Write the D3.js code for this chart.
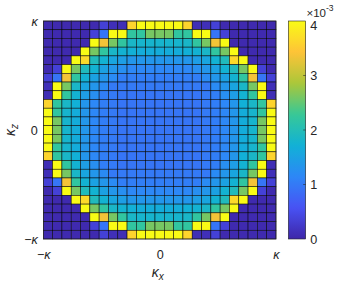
<!DOCTYPE html>
<html><head><meta charset="utf-8">
<script src="https://cdn.jsdelivr.net/npm/d3@7"></script>
<style>
body{margin:0;background:#fff}
svg{display:block;font-family:"Liberation Sans",Arial,Helvetica,sans-serif}
</style>
</head><body><svg id="c" width="357" height="282"></svg>
<script>
// ---- data ----
const xTickValues = [-1, 0, 1];
const xTickLabels = ["−κ", "0", "κ"];
const yTickValues = [-1, 0, 1];
const yTickLabels = ["−κ", "0", "κ"];
const cbTickValues = [0, 1, 2, 3, 4];
const cbExponent = "-3";
const xLabel = "κ", xLabelSub = "x";
const yLabel = "κ", yLabelSub = "z";
const parula = ["#3e26a8", "#4852f4", "#2d87f7", "#11b1d6", "#37c897", "#abc739", "#fec338", "#f9fb15"];

// cell values (x 1e-3), rows top (κz = +κ) to bottom, columns left (κx = -κ) to right
const row00 = [0.05,0.05,0.05,0.05,0.05,0.05,0.35,0.12,0.1,3.6,4,4,4,4,4,3.6,0.1,0.12,0.35,0.05,0.05,0.05,0.05,0.05,0.05];
const row01 = [0.05,0.05,0.05,0.05,0.05,0.35,0.95,4,4,2.2,2.2,2.6,2.6,2.6,2.2,2.2,4,4,0.95,0.35,0.05,0.05,0.05,0.05,0.05];
const row02 = [0.05,0.05,0.05,0.05,0.05,4,3.35,2.6,2.2,1.85,1.8,1.8,1.8,1.8,1.8,1.85,2.2,2.6,3.35,4,0.05,0.05,0.05,0.05,0.05];
const row03 = [0.05,0.05,0.05,0.05,4,2.6,2.2,1.85,1.75,1.7,1.65,1.65,1.65,1.65,1.65,1.7,1.75,1.85,2.2,2.6,4,0.05,0.05,0.05,0.05];
const row04 = [0.05,0.05,0.05,4,3.65,1.95,1.75,1.55,1.45,1.35,1.35,1.35,1.35,1.35,1.35,1.35,1.45,1.55,1.75,1.95,3.65,4,0.05,0.05,0.05];
const row05 = [0.05,0.35,4,2.6,1.95,1.75,1.5,1.35,1.25,1.15,1.15,1.15,1.15,1.15,1.15,1.15,1.25,1.35,1.5,1.75,1.95,2.6,4,0.35,0.05];
const row06 = [0.35,0.95,3.35,2.2,1.75,1.5,1.35,1.2,1.05,1.05,1.05,1.05,1.05,1.05,1.05,1.05,1.05,1.2,1.35,1.5,1.75,2.2,3.35,0.95,0.35];
const row07 = [0.12,4,2.6,1.85,1.55,1.35,1.2,1.0,1.0,1.0,1.0,1.0,1.0,1.0,1.0,1.0,1.0,1.0,1.2,1.35,1.55,1.85,2.6,4,0.12];
const row08 = [0.1,4,2.2,1.75,1.45,1.25,1.05,1.0,0.95,0.95,0.95,0.95,0.95,0.95,0.95,0.95,0.95,1.0,1.05,1.25,1.45,1.75,2.2,4,0.1];
const row09 = [3.6,2.2,1.85,1.7,1.35,1.15,1.05,1.0,0.95,0.95,0.95,0.95,0.95,0.95,0.95,0.95,0.95,1.0,1.05,1.15,1.35,1.7,1.85,2.2,3.6];
const row10 = [4,2.2,1.8,1.65,1.35,1.15,1.05,1.0,0.95,0.95,0.95,0.95,0.95,0.95,0.95,0.95,0.95,1.0,1.05,1.15,1.35,1.65,1.8,2.2,4];
const row11 = [4,2.6,1.8,1.65,1.35,1.15,1.05,1.0,0.95,0.95,0.95,0.95,0.95,0.95,0.95,0.95,0.95,1.0,1.05,1.15,1.35,1.65,1.8,2.6,4];
const row12 = [4,2.6,1.8,1.65,1.35,1.15,1.05,1.0,0.95,0.95,0.95,0.95,0.95,0.95,0.95,0.95,0.95,1.0,1.05,1.15,1.35,1.65,1.8,2.6,4];
const row13 = [4,2.6,1.8,1.65,1.35,1.15,1.05,1.0,0.95,0.95,0.95,0.95,0.95,0.95,0.95,0.95,0.95,1.0,1.05,1.15,1.35,1.65,1.8,2.6,4];
const row14 = [4,2.2,1.8,1.65,1.35,1.15,1.05,1.0,0.95,0.95,0.95,0.95,0.95,0.95,0.95,0.95,0.95,1.0,1.05,1.15,1.35,1.65,1.8,2.2,4];
const row15 = [3.6,2.2,1.85,1.7,1.35,1.15,1.05,1.0,0.95,0.95,0.95,0.95,0.95,0.95,0.95,0.95,0.95,1.0,1.05,1.15,1.35,1.7,1.85,2.2,3.6];
const row16 = [0.1,4,2.2,1.75,1.45,1.25,1.05,1.0,0.95,0.95,0.95,0.95,0.95,0.95,0.95,0.95,0.95,1.0,1.05,1.25,1.45,1.75,2.2,4,0.1];
const row17 = [0.12,4,2.6,1.85,1.55,1.35,1.2,1.0,1.0,1.0,1.0,1.0,1.0,1.0,1.0,1.0,1.0,1.0,1.2,1.35,1.55,1.85,2.6,4,0.12];
const row18 = [0.35,0.95,3.35,2.2,1.75,1.5,1.35,1.2,1.05,1.05,1.05,1.05,1.05,1.05,1.05,1.05,1.05,1.2,1.35,1.5,1.75,2.2,3.35,0.95,0.35];
const row19 = [0.05,0.35,4,2.6,1.95,1.75,1.5,1.35,1.25,1.15,1.15,1.15,1.15,1.15,1.15,1.15,1.25,1.35,1.5,1.75,1.95,2.6,4,0.35,0.05];
const row20 = [0.05,0.05,0.05,4,3.65,1.95,1.75,1.55,1.45,1.35,1.35,1.35,1.35,1.35,1.35,1.35,1.45,1.55,1.75,1.95,3.65,4,0.05,0.05,0.05];
const row21 = [0.05,0.05,0.05,0.05,4,2.6,2.2,1.85,1.75,1.7,1.65,1.65,1.65,1.65,1.65,1.7,1.75,1.85,2.2,2.6,4,0.05,0.05,0.05,0.05];
const row22 = [0.05,0.05,0.05,0.05,0.05,4,3.35,2.6,2.2,1.85,1.8,1.8,1.8,1.8,1.8,1.85,2.2,2.6,3.35,4,0.05,0.05,0.05,0.05,0.05];
const row23 = [0.05,0.05,0.05,0.05,0.05,0.35,0.95,4,4,2.2,2.2,2.6,2.6,2.6,2.2,2.2,4,4,0.95,0.35,0.05,0.05,0.05,0.05,0.05];
const row24 = [0.05,0.05,0.05,0.05,0.05,0.05,0.35,0.12,0.1,3.6,4,4,4,4,4,3.6,0.1,0.12,0.35,0.05,0.05,0.05,0.05,0.05,0.05];
const values = [row00,row01,row02,row03,row04,row05,row06,row07,row08,row09,row10,row11,row12,
                row13,row14,row15,row16,row17,row18,row19,row20,row21,row22,row23,row24];

// ---- drawing ----
const svg = d3.select("#c");
const P = {x0: 43.3, x1: 276, y0: 21, y1: 239};
const CB = {x0: 288.3, x1: 305.7};
const tickFont = 12.6, labelFont = 14;
const ink = "#262626";

const nR = values.length, nC = values[0].length;
const xb = d3.scaleBand().domain(d3.range(nC)).range([P.x0, P.x1]);
const yb = d3.scaleBand().domain(d3.range(nR)).range([P.y0, P.y1]);
const xl = d3.scaleLinear().domain([-1, 1]).range([P.x0, P.x1]);
const yl = d3.scaleLinear().domain([-1, 1]).range([P.y1, P.y0]);
const cmax = d3.max(cbTickValues);
const color = d3.scaleLinear()
  .domain(parula.map((_, i) => i * cmax / (parula.length - 1)))
  .range(parula).interpolate(d3.interpolateRgb).clamp(true);

const cells = [];
values.forEach((row, r) => row.forEach((v, c) => cells.push({r, c, v})));

svg.append("g").selectAll("rect").data(cells).join("rect")
  .attr("x", d => xb(d.c)).attr("y", d => yb(d.r))
  .attr("width", xb.bandwidth()).attr("height", yb.bandwidth())
  .attr("fill", d => color(d.v))
  .attr("stroke", "#000").attr("stroke-opacity", 0.85).attr("stroke-width", 0.6);

svg.append("rect").attr("x", P.x0).attr("y", P.y0)
  .attr("width", P.x1 - P.x0).attr("height", P.y1 - P.y0)
  .attr("fill", "none").attr("stroke", ink).attr("stroke-width", 0.6);

// split a label so that the Greek letter is set in italics, the rest upright
function greekLabel(sel, label) {
  sel.text(null);
  for (const ch of label) {
    sel.append("tspan").attr("font-style", ch === "κ" ? "italic" : "normal").text(ch);
  }
}

// axes
const xAxis = svg.append("g").attr("transform", `translate(0,${P.y1})`)
  .call(d3.axisBottom(xl).tickValues(xTickValues).tickSize(0).tickPadding(10.8));
const yAxis = svg.append("g").attr("transform", `translate(${P.x0},0)`)
  .call(d3.axisLeft(yl).tickValues(yTickValues).tickSize(0).tickPadding(5.5));
[xAxis, yAxis].forEach((g, k) => {
  g.select(".domain").remove();
  const labs = k === 0 ? xTickLabels : yTickLabels;
  g.selectAll("text").attr("font-size", tickFont).attr("fill", ink)
    .attr("font-family", "Liberation Sans, Arial, sans-serif")
    .each(function(d, i) { greekLabel(d3.select(this), labs[i]); });
});

// axis labels
const xt = svg.append("text").attr("x", (P.x0 + P.x1) / 2 - 2).attr("y", 276.5)
  .attr("text-anchor", "middle").attr("font-size", labelFont).attr("fill", ink);
xt.append("tspan").attr("font-style", "italic").text(xLabel);
xt.append("tspan").attr("font-size", labelFont * 0.72).attr("font-style", "italic").attr("dy", 3).text(xLabelSub);

const yt = svg.append("text").attr("transform", `translate(15,${(P.y0 + P.y1) / 2}) rotate(-90)`)
  .attr("text-anchor", "middle").attr("font-size", labelFont).attr("fill", ink);
yt.append("tspan").attr("font-style", "italic").text(yLabel);
yt.append("tspan").attr("font-size", labelFont * 0.72).attr("font-style", "italic").attr("dy", 3).text(yLabelSub);

// colorbar
const cbScale = d3.scaleLinear().domain([0, cmax]).range([P.y1, P.y0]);
const grad = svg.append("defs").append("linearGradient").attr("id", "cbg")
  .attr("x1", 0).attr("y1", 1).attr("x2", 0).attr("y2", 0);
d3.range(0, 1.0001, 0.02).forEach(t => {
  grad.append("stop").attr("offset", t).attr("stop-color", color(t * cmax));
});
svg.append("rect").attr("x", CB.x0).attr("y", P.y0)
  .attr("width", CB.x1 - CB.x0).attr("height", P.y1 - P.y0)
  .attr("fill", "url(#cbg)").attr("stroke", ink).attr("stroke-width", 0.6);
const cbAxis = svg.append("g").attr("transform", `translate(${CB.x1},0)`)
  .call(d3.axisRight(cbScale).tickValues(cbTickValues).tickSize(0).tickPadding(4.5).tickFormat(d3.format("d")));
cbAxis.select(".domain").remove();
cbAxis.selectAll("text").attr("font-size", tickFont).attr("fill", ink)
  .attr("font-family", "Liberation Sans, Arial, sans-serif")
  .attr("dy", d => d === cmax ? "0.75em" : "0.32em")
  .attr("y", d => d === cmax ? -1 : 0);
svg.append("g").selectAll("line").data(cbTickValues.slice(1, -1)).join("line")
  .attr("x1", CB.x1 - 2.5).attr("x2", CB.x1)
  .attr("y1", d => cbScale(d)).attr("y2", d => cbScale(d))
  .attr("stroke", ink).attr("stroke-width", 0.6);

const ex = svg.append("text").attr("x", 306.5).attr("y", 16.5)
  .attr("font-size", 11.5).attr("fill", ink);
ex.append("tspan").text("×10");
ex.append("tspan").attr("font-size", 8.5).attr("dy", -5.5).text(cbExponent);
</script>
</body></html>
